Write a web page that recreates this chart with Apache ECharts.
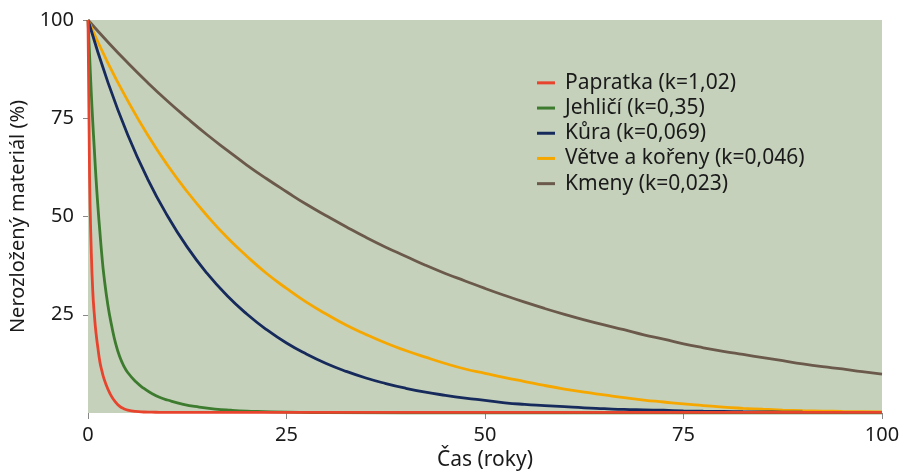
<!DOCTYPE html>
<html>
<head>
<meta charset="utf-8">
<script src="https://cdn.jsdelivr.net/npm/echarts@6/dist/echarts.min.js"></script>
<style>
html,body{margin:0;padding:0;background:#fff;}
#c{width:904px;height:476px;}
</style>
</head>
<body>
<div id="c"></div>
<script>
// time points (years)
var tFast = [0,0.2,0.4,0.6,0.8,1,1.25,1.5,1.75,2,2.5,3,3.5,4,4.5,5,6,7,8,9,10,12,14,16,18,20,25,30,40,50,60,70,80,90,100];
var tSlow = [0,2.5,5,7.5,10,12.5,15,17.5,20,22.5,25,27.5,30,32.5,35,37.5,40,42.5,45,47.5,50,52.5,55,57.5,60,62.5,65,67.5,70,72.5,75,77.5,80,82.5,85,87.5,90,92.5,95,97.5,100];

// series names
var names = ['Papratka (k=1,02)','Jehličí (k=0,35)','Kůra (k=0,069)','Větve a kořeny (k=0,046)','Kmeny (k=0,023)'];

// values (% undecomposed material)
var papratka = [100,60,42,31,25,20.5,16.5,13,10.7,8.8,6.1,4.1,2.7,1.7,1.1,0.75,0.4,0.25,0.2,0.18,0.15,0.15,0.15,0.15,0.15,0.15,0.15,0.15,0.15,0.15,0.15,0.15,0.15,0.15,0.15];
var jehlici  = [100,91,82,74,67,60,52.5,46,40,35,27.5,22,17.5,14.3,12,10.3,8,6.3,5,4,3.3,2.2,1.5,1,0.7,0.5,0.2,0.1,0,0,0,0,0,0,0];
var kura     = [100,84.2,70.8,59.6,50.2,42.2,35.5,29.9,25.2,21.2,17.8,15,12.6,10.6,8.9,7.5,6.3,5.3,4.5,3.8,3.2,2.6,2.2,1.9,1.6,1.3,1.1,0.9,0.8,0.7,0.55,0.45,0.4,0.33,0.28,0.24,0.2,0.17,0.14,0.12,0.1];
var vetve    = [100,89.1,79.5,70.8,63.1,56.3,50.2,44.7,39.9,35.5,31.7,28.2,25.2,22.4,20,17.8,15.9,14.2,12.6,11.2,10.1,9,8,7,6.1,5.3,4.6,3.9,3.3,2.8,2.3,1.9,1.5,1.2,0.95,0.75,0.6,0.5,0.4,0.35,0.3];
var kmeny    = [100,94.4,89.1,84.1,79.4,75,70.8,66.9,63.1,59.6,56.3,53.1,50.2,47.4,44.7,42.2,39.9,37.6,35.5,33.6,31.7,29.9,28.2,26.6,25.1,23.7,22.4,21.2,19.9,18.8,17.6,16.6,15.7,14.9,14.1,13.3,12.5,11.8,11.2,10.5,9.9];

// tick labels
var yTicks = [25,50,75,100];
var xTicks = [0,25,50,75,100];

var colors = ['#e8432d','#3d7b2f','#172a5c','#f5a700','#6b5a4b'];

function pairs(t, v){ return t.map(function(x,i){ return [x, v[i]]; }); }
var seriesData = [pairs(tFast,papratka), pairs(tFast,jehlici), pairs(tSlow,kura), pairs(tSlow,vetve), pairs(tSlow,kmeny)];

var font = '"Noto Sans", "Open Sans", sans-serif';
var chart = echarts.init(document.getElementById('c'), null, {renderer:'canvas'});
chart.setOption({
  animation:false,
  color: colors,
  textStyle:{fontFamily:font},
  grid:{left:88, right:22, top:20, bottom:61, show:true, backgroundColor:'#c5d1bb', borderWidth:0},
  legend:{
    orient:'vertical', left:537, top:71, padding:0, itemWidth:18, itemHeight:3, itemGap:1.5,
    icon:'rect', data:names,
    textStyle:{fontFamily:font, fontSize:21, color:'#1a1a1a', lineHeight:23.7, padding:[0,0,0,5]}
  },
  xAxis:{
    type:'value', min:0, max:100, interval:25,
    name:'Čas (roky)', nameLocation:'middle', nameGap:37,
    nameTextStyle:{fontFamily:font, fontSize:21, color:'#1a1a1a'},
    axisLine:{show:false},
    axisTick:{show:true, length:6, lineStyle:{color:'#888'}},
    axisLabel:{fontFamily:font, fontSize:20, color:'#1a1a1a', margin:12, customValues:xTicks},
    splitLine:{show:false}
  },
  yAxis:{
    type:'value', min:0, max:100, interval:25,
    name:'Nerozložený materiál (%)', nameLocation:'middle', nameGap:60,
    nameTextStyle:{fontFamily:font, fontSize:20, color:'#1a1a1a'},
    axisLine:{show:false},
    axisTick:{show:true, length:5, lineStyle:{color:'#888'}, customValues:yTicks},
    axisLabel:{fontFamily:font, fontSize:20, color:'#1a1a1a', margin:14, customValues:yTicks},
    splitLine:{show:false}
  },
  series: names.map(function(n,i){
    return {
      name:n, type:'line', data:seriesData[i], showSymbol:false, symbol:'none',
      smooth:0.5, clip:true,
      lineStyle:{width:2.8, color:colors[i]}, itemStyle:{color:colors[i]},
      z: 10 - i
    };
  })
});
</script>
</body>
</html>
